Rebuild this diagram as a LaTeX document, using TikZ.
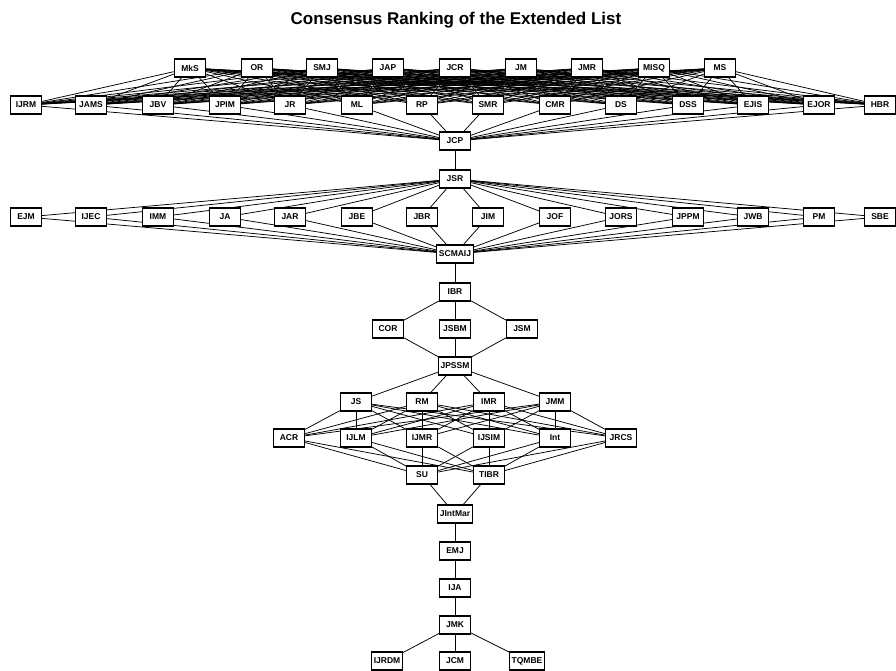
\documentclass[tikz,border=0pt]{standalone}
\usepackage{fontspec}
\setmainfont{Liberation Sans}
\pgfdeclarelayer{bg}
\pgfsetlayers{bg,main}
\begin{document}
\begin{tikzpicture}[x=1pt,y=-1pt,
  box/.style={draw, line width=1.1pt, fill=white, minimum width=31pt, minimum height=18pt, inner sep=2pt, font=\bfseries\fontsize{8.5}{9}\selectfont},
  edge/.style={line width=0.75pt}]
\useasboundingbox (0,0) rectangle (896,670);
\node[font=\bfseries\fontsize{17}{20}\selectfont] (title) at (456,20) {Consensus Ranking of the Extended List};
% row 1
\foreach \n/\x/\t in {1/190/MkS,2/257/OR,3/322/SMJ,4/388/JAP,5/455/JCR,6/521/JM,7/587/JMR,8/654/MISQ,9/720/MS}
  \node[box] (a\n) at (\x,68) {\t};
% row 2
\foreach \n/\x/\t in {1/26/IJRM,2/91/JAMS,3/158/JBV,4/225/JPIM,5/290/JR,6/357/ML,7/422/RP,8/488/SMR,9/555/CMR,10/621/DS,11/688/DSS,12/753/EJIS,13/819/EJOR,14/880/HBR}
  \node[box] (b\n) at (\x,105) {\t};
\node[box] (jcp) at (455,141) {JCP};
\node[box] (jsr) at (455,179) {JSR};
\foreach \n/\x/\t in {1/26/EJM,2/91/IJEC,3/158/IMM,4/225/JA,5/290/JAR,6/357/JBE,7/422/JBR,8/488/JIM,9/555/JOF,10/621/JORS,11/688/JPPM,12/753/JWB,13/819/PM,14/880/SBE}
  \node[box] (c\n) at (\x,217) {\t};
\node[box] (scm) at (455,254) {SCMAIJ};
\node[box] (ibr) at (455,292) {IBR};
\node[box] (cor) at (388,329) {COR};
\node[box] (jsbm) at (455,329) {JSBM};
\node[box] (jsm) at (522,329) {JSM};
\node[box] (jpssm) at (455,366) {JPSSM};
\foreach \n/\x/\t in {1/356/JS,2/422/RM,3/489/IMR,4/555/JMM}
  \node[box] (d\n) at (\x,402) {\t};
\foreach \n/\x/\t in {1/289/ACR,2/356/IJLM,3/422/IJMR,4/489/IJSIM,5/555/Int,6/621/JRCS}
  \node[box] (e\n) at (\x,438) {\t};
\node[box] (su) at (422,475) {SU};
\node[box] (tibr) at (489,475) {TIBR};
\node[box] (jint) at (455,514) {JIntMar};
\node[box] (emj) at (455,551) {EMJ};
\node[box] (ija) at (455,588) {IJA};
\node[box] (jmk) at (455,625) {JMK};
\node[box] (rdm) at (387,661) {IJRDM};
\node[box] (jcm) at (455,661) {JCM};
\node[box] (tqm) at (527,661) {TQMBE};
\begin{pgfonlayer}{bg}
\foreach \i in {1,...,9} \foreach \j in {1,...,14} \draw[edge] (a\i) -- (b\j);
\foreach \j in {1,...,14} \draw[edge] (b\j) -- (jcp);
\draw[edge] (jcp) -- (jsr);
\foreach \j in {1,...,14} {\draw[edge] (jsr) -- (c\j); \draw[edge] (c\j) -- (scm);}
\draw[edge] (scm) -- (ibr);
\foreach \m in {cor,jsbm,jsm} {\draw[edge] (ibr) -- (\m); \draw[edge] (\m) -- (jpssm);}
\foreach \i in {1,...,4} \draw[edge] (jpssm) -- (d\i);
\foreach \i in {1,...,4} \foreach \j in {1,...,6} \draw[edge] (d\i) -- (e\j);
\foreach \j in {1,...,6} {\draw[edge] (e\j) -- (su); \draw[edge] (e\j) -- (tibr);}
\draw[edge] (su) -- (jint);
\draw[edge] (tibr) -- (jint);
\draw[edge] (jint) -- (emj);
\draw[edge] (emj) -- (ija);
\draw[edge] (ija) -- (jmk);
\draw[edge] (jmk) -- (rdm);
\draw[edge] (jmk) -- (jcm);
\draw[edge] (jmk) -- (tqm);
\end{pgfonlayer}
\end{tikzpicture}
\end{document}
